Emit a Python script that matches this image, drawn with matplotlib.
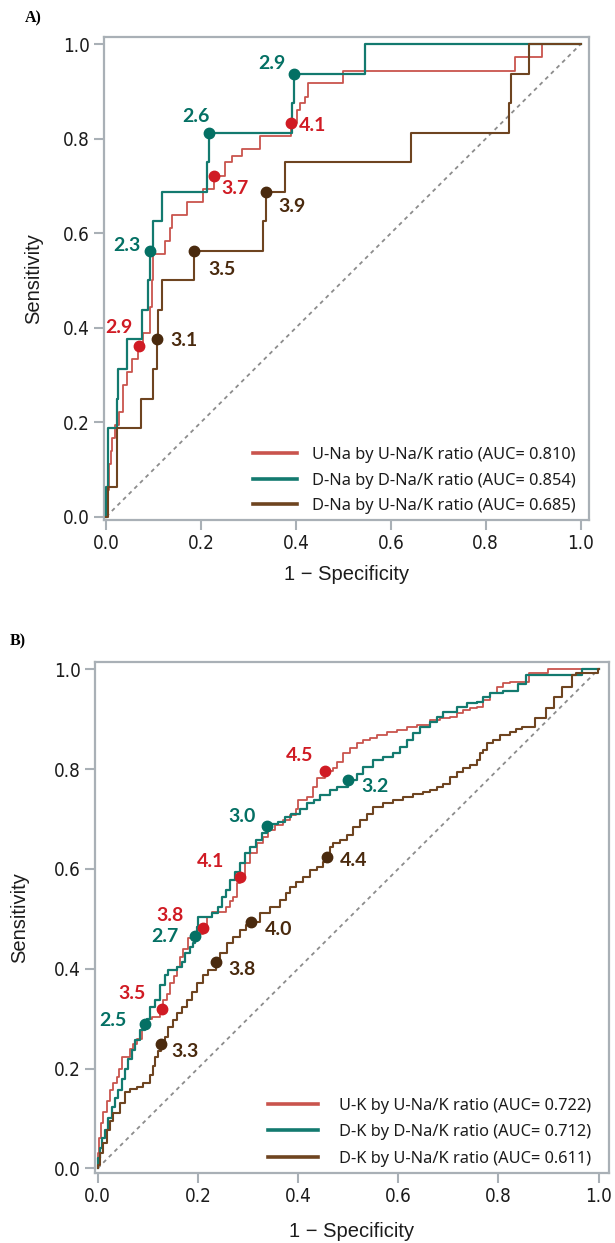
import matplotlib
matplotlib.use('Agg')
from matplotlib import pyplot

# ---------------- panel A data ----------------
a_red_fpr = [0, 0, 0.001, 0.006, 0.010, 0.013, 0.019, 0.026, 0.036, 0.043, 0.054, 0.068, 0.078,
             0.092, 0.096, 0.099, 0.124, 0.135, 0.139, 0.170, 0.203, 0.228, 0.250, 0.265, 0.286,
             0.324, 0.390, 0.402, 0.409, 0.418, 0.426, 0.500, 0.861, 0.918, 1.0]
a_red_tpr = [0, 0.028, 0.056, 0.111, 0.139, 0.167, 0.194, 0.222, 0.278, 0.306, 0.333, 0.361, 0.389,
             0.444, 0.5, 0.556, 0.583, 0.611, 0.639, 0.667, 0.694, 0.722, 0.75, 0.764, 0.778,
             0.806, 0.833, 0.861, 0.875, 0.889, 0.917, 0.944, 0.972, 1.0, 1.0]

a_teal_fpr = [0, 0, 0.003, 0.022, 0.0255, 0.0445, 0.075, 0.089, 0.0915, 0.099, 0.118, 0.212, 0.2165,
              0.392, 0.3965, 0.545, 1.0]
a_teal_tpr = [0, 0.0625, 0.1875, 0.25, 0.3125, 0.375, 0.4375, 0.5, 0.5625, 0.625, 0.6875, 0.75, 0.8125,
              0.875, 0.9375, 1.0, 1.0]

a_brown_fpr = [0, 0.0045, 0.022, 0.073, 0.099, 0.108, 0.110, 0.118, 0.1844, 0.330, 0.3358, 0.377,
               0.642, 0.850, 0.854, 0.891, 1.0]
a_brown_tpr = [0, 0.0625, 0.1875, 0.25, 0.3125, 0.375, 0.4375, 0.5, 0.5625, 0.625, 0.6875, 0.75,
               0.8125, 0.875, 0.9375, 1.0, 1.0]

a_red_cut_x = [0.0683, 0.228, 0.390]
a_red_cut_y = [0.361, 0.722, 0.833]
a_red_cut_lab = ['2.9', '3.7', '4.1']
a_teal_cut_x = [0.0915, 0.2165, 0.3965]
a_teal_cut_y = [0.5625, 0.8125, 0.9375]
a_teal_cut_lab = ['2.3', '2.6', '2.9']
a_brown_cut_x = [0.108, 0.1844, 0.3358]
a_brown_cut_y = [0.375, 0.5625, 0.6875]
a_brown_cut_lab = ['3.1', '3.5', '3.9']

a_legend = ['U-Na by U-Na/K ratio (AUC= 0.810)',
            'D-Na by D-Na/K ratio (AUC= 0.854)',
            'D-Na by U-Na/K ratio (AUC= 0.685)']

# ---------------- panel B data ----------------
b_red_fpr = [0, 0, 0.003, 0.006, 0.011, 0.018, 0.025, 0.031, 0.038, 0.043, 0.048, 0.0647, 0.071,
             0.078, 0.088, 0.098, 0.108, 0.125, 0.129, 0.131, 0.138, 0.1445, 0.152, 0.158, 0.1645,
             0.171, 0.181, 0.190, 0.2097, 0.218, 0.2277, 0.2568, 0.2643, 0.271, 0.279, 0.2842,
             0.294, 0.304, 0.3175, 0.331, 0.3407, 0.354, 0.3707, 0.384, 0.397, 0.4006, 0.417,
             0.4305, 0.437, 0.4539, 0.4705, 0.477, 0.490, 0.5038, 0.517, 0.530, 0.543, 0.557,
             0.577, 0.597, 0.617, 0.637, 0.6635, 0.6834, 0.7034, 0.7167, 0.730, 0.7435, 0.7567,
             0.770, 0.783, 0.7966, 0.810, 0.823, 0.861, 0.900, 1.0]
b_red_tpr = [0, 0.03, 0.06, 0.09, 0.113, 0.135, 0.157, 0.17, 0.184, 0.20, 0.224, 0.24, 0.25,
             0.26, 0.28, 0.30, 0.303, 0.315, 0.319, 0.337, 0.35, 0.371, 0.385, 0.404, 0.424,
             0.44, 0.461, 0.47, 0.482, 0.504, 0.514, 0.524, 0.535, 0.544, 0.571, 0.5844,
             0.611, 0.631, 0.651, 0.664, 0.678, 0.688, 0.698, 0.708, 0.721, 0.738, 0.745,
             0.765, 0.7816, 0.796, 0.8016, 0.815, 0.8317, 0.8417, 0.8517, 0.858, 0.862, 0.868,
             0.875, 0.8785, 0.885, 0.888, 0.898, 0.902, 0.905, 0.912, 0.918, 0.922, 0.925,
             0.9385, 0.952, 0.965, 0.972, 0.974, 0.992, 1.0, 1.0]

b_teal_fpr = [0, 0, 0.004, 0.008, 0.0148, 0.021, 0.028, 0.035, 0.0413, 0.048, 0.0547, 0.061, 0.068,
              0.075, 0.0846, 0.0946, 0.098, 0.1046, 0.114, 0.1245, 0.134, 0.141, 0.158, 0.168,
              0.1745, 0.185, 0.190, 0.1944, 0.198, 0.201, 0.2277, 0.241, 0.2477, 0.257, 0.2643,
              0.274, 0.284, 0.294, 0.304, 0.317, 0.3275, 0.3375, 0.347, 0.3607, 0.374, 0.387,
              0.404, 0.4174, 0.431, 0.444, 0.464, 0.477, 0.5004, 0.517, 0.530, 0.550, 0.570,
              0.590, 0.6036, 0.617, 0.630, 0.643, 0.6635, 0.677, 0.690, 0.717, 0.7367, 0.757,
              0.770, 0.783, 0.810, 0.840, 0.855, 0.966, 1.0]
b_teal_tpr = [0, 0.02, 0.04, 0.06, 0.0768, 0.10, 0.1235, 0.14, 0.157, 0.18, 0.2, 0.22, 0.237,
              0.257, 0.277, 0.2886, 0.30, 0.324, 0.337, 0.367, 0.387, 0.397, 0.404, 0.414,
              0.431, 0.444, 0.451, 0.4655, 0.484, 0.504, 0.511, 0.524, 0.544, 0.558, 0.578,
              0.594, 0.611, 0.631, 0.644, 0.658, 0.671, 0.686, 0.691, 0.6946, 0.704, 0.711,
              0.721, 0.7315, 0.738, 0.748, 0.758, 0.765, 0.778, 0.791, 0.805, 0.818, 0.825,
              0.832, 0.845, 0.858, 0.872, 0.885, 0.895, 0.905, 0.915, 0.925, 0.932, 0.935,
              0.945, 0.952, 0.957, 0.970, 0.988, 1.0, 1.0]

b_brown_fpr = [0, 0, 0.005, 0.0114, 0.018, 0.025, 0.0314, 0.045, 0.0547, 0.065, 0.078, 0.091,
               0.1046, 0.110, 0.1146, 0.121, 0.1265, 0.135, 0.141, 0.151, 0.158, 0.168, 0.178,
               0.188, 0.198, 0.211, 0.221, 0.2357, 0.244, 0.2577, 0.271, 0.284, 0.297, 0.306,
               0.324, 0.344, 0.364, 0.377, 0.384, 0.397, 0.4106, 0.424, 0.437, 0.450, 0.4573,
               0.464, 0.4705, 0.484, 0.497, 0.510, 0.5237, 0.537, 0.5503, 0.570, 0.590, 0.610,
               0.630, 0.650, 0.663, 0.677, 0.690, 0.7034, 0.717, 0.730, 0.743, 0.7567, 0.763,
               0.770, 0.7767, 0.790, 0.803, 0.823, 0.836, 0.8465, 0.873, 0.896, 0.912, 0.9275,
               0.947, 0.955, 0.998, 1.0]
b_brown_tpr = [0, 0.007, 0.03, 0.05, 0.077, 0.095, 0.11, 0.13, 0.1535, 0.158, 0.1635, 0.17,
               0.187, 0.205, 0.2237, 0.235, 0.2485, 0.264, 0.284, 0.297, 0.311, 0.324, 0.337,
               0.354, 0.371, 0.387, 0.397, 0.414, 0.431, 0.451, 0.464, 0.4776, 0.488, 0.493,
               0.511, 0.524, 0.5377, 0.551, 0.564, 0.574, 0.5844, 0.598, 0.6044, 0.614, 0.623,
               0.644, 0.651, 0.658, 0.668, 0.684, 0.698, 0.711, 0.7246, 0.7315, 0.738, 0.7447,
               0.751, 0.7547, 0.758, 0.7647, 0.771, 0.785, 0.795, 0.8016, 0.808, 0.818, 0.8317,
               0.838, 0.8517, 0.858, 0.868, 0.875, 0.88, 0.885, 0.902, 0.922, 0.945, 0.965,
               0.9886, 0.993, 1.0, 1.0]

b_red_cut_x = [0.129, 0.2097, 0.2842, 0.4539]
b_red_cut_y = [0.319, 0.482, 0.5844, 0.796]
b_red_cut_lab = ['3.5', '3.8', '4.1', '4.5']
b_teal_cut_x = [0.0946, 0.1944, 0.3375, 0.5004]
b_teal_cut_y = [0.2886, 0.4655, 0.686, 0.778]
b_teal_cut_lab = ['2.5', '2.7', '3.0', '3.2']
b_brown_cut_x = [0.1265, 0.2357, 0.306, 0.4573]
b_brown_cut_y = [0.2485, 0.414, 0.493, 0.623]
b_brown_cut_lab = ['3.3', '3.8', '4.0', '4.4']

b_legend = ['U-K by U-Na/K ratio (AUC= 0.722)',
            'D-K by D-Na/K ratio (AUC= 0.712)',
            'D-K by U-Na/K ratio (AUC= 0.611)']

ticks = [0.0, 0.2, 0.4, 0.6, 0.8, 1.0]

RED_LINE, RED_DOT = '#c9544d', '#d01b24'
TEAL_LINE, TEAL_DOT = '#137a6f', '#047064'
BROWN_LINE, BROWN_DOT = '#6e4420', '#4a2a0e'
FRAME = '#a9b0b6'


def label_cutoffs(ax, xs, ys, labels, offsets, dot, txt):
    ax.plot(xs, ys, 'o', color=dot, markersize=7.5, zorder=5)
    for x, y, lab, off in zip(xs, ys, labels, offsets):
        ax.annotate(lab, (x, y), xytext=off, textcoords='offset points',
                    ha='center', va='center', color=txt, fontsize=14,
                    fontweight='bold', family=['Lato', 'DejaVu Sans'], zorder=6)


def style_axes(ax, xlim, ylim, xlab_y, ylab_x):
    ax.set_xlim(xlim)
    ax.set_ylim(ylim)
    ax.set_xticks(ticks)
    ax.set_yticks(ticks)
    ax.set_xticklabels(['%.1f' % t for t in ticks])
    ax.set_yticklabels(['%.1f' % t for t in ticks])
    for s in ax.spines.values():
        s.set_color(FRAME)
        s.set_linewidth(1.6)
    ax.tick_params(direction='out', length=7, width=1.5, color=FRAME,
                   labelcolor='#1c1c1c', labelsize=13.5, pad=3)
    for lab in ax.get_xticklabels() + ax.get_yticklabels():
        lab.set_family('DejaVu Sans')
        lab.set_stretch('condensed')
    ax.plot([0, 1], [0, 1], color='#8c8c8c', lw=1.3, linestyle=(0, (2.2, 2.2)), zorder=1)
    ax.set_xlabel('1 \u2212 Specificity', fontsize=14.5, family=['Liberation Sans', 'DejaVu Sans'],
                  color='#1c1c1c')
    ax.set_ylabel('Sensitivity', fontsize=14.5, family=['Liberation Sans', 'DejaVu Sans'],
                  color='#1c1c1c')
    ax.xaxis.set_label_coords(0.5, xlab_y)
    ax.xaxis.label.set_va('center')
    ax.yaxis.set_label_coords(ylab_x, 0.5)
    ax.yaxis.label.set_va('center')


def px(dx, dy):
    # pixel offsets (at 100 dpi) -> points
    return (dx * 0.72, dy * 0.72)


def add_legend(ax, handles, labels, anchor, hlen, tpad, lspace):
    leg = ax.legend(handles, labels, loc='lower left', bbox_to_anchor=anchor,
                    frameon=False, borderpad=0, borderaxespad=0, handlelength=hlen,
                    handletextpad=tpad, labelspacing=lspace,
                    prop={'family': ['Noto Sans', 'DejaVu Sans'], 'size': 11.8})
    for ln in leg.get_lines():
        ln.set_linewidth(2.6)
    for t in leg.get_texts():
        t.set_color('#1c1c1c')
    return leg


fig = pyplot.figure(figsize=(6.15, 12.43), dpi=100)

# ---------------- panel A ----------------
axA = fig.add_axes([0.1683, 0.5817, 0.7891, 0.3886])
lA1, = axA.plot(a_red_fpr, a_red_tpr, drawstyle='steps-post', color=RED_LINE, lw=1.3, zorder=3)
lA2, = axA.plot(a_teal_fpr, a_teal_tpr, drawstyle='steps-post', color=TEAL_LINE, lw=1.6, zorder=3)
lA3, = axA.plot(a_brown_fpr, a_brown_tpr, drawstyle='steps-post', color=BROWN_LINE, lw=1.5, zorder=3)
style_axes(axA, (-0.0057, 1.0173), (-0.007, 1.0155), -0.1139, -0.1432)
label_cutoffs(axA, a_red_cut_x, a_red_cut_y, a_red_cut_lab,
              [px(-19.5, 18.3), px(20.6, -13.3), px(21, -2.7)], RED_DOT, RED_DOT)
label_cutoffs(axA, a_teal_cut_x, a_teal_cut_y, a_teal_cut_lab,
              [px(-22.7, 5), px(-12.8, 16.6), px(-22.9, 10)], TEAL_DOT, TEAL_DOT)
label_cutoffs(axA, a_brown_cut_x, a_brown_cut_y, a_brown_cut_lab,
              [px(26.1, -0.7), px(28.1, -19), px(26.6, -15)], BROWN_DOT, BROWN_DOT)
add_legend(axA, [lA1, lA2, lA3], a_legend, (0.308, 0.0125), 2.7, 0.93, 0.57)
fig.text(33 / 615, 1 - 18 / 1243, 'A)', ha='center', va='center', fontsize=11.5,
         fontweight='bold', family=['Liberation Serif', 'DejaVu Serif'])

# ---------------- panel B ----------------
axB = fig.add_axes([0.1543, 0.0563, 0.8361, 0.4111])
lB1, = axB.plot(b_red_fpr, b_red_tpr, drawstyle='steps-post', color=RED_LINE, lw=1.3, zorder=3)
lB2, = axB.plot(b_teal_fpr, b_teal_tpr, drawstyle='steps-post', color=TEAL_LINE, lw=1.6, zorder=3)
lB3, = axB.plot(b_brown_fpr, b_brown_tpr, drawstyle='steps-post', color=BROWN_LINE, lw=1.5, zorder=3)
style_axes(axB, (-0.0054, 1.021), (-0.0094, 1.0146), -0.1149, -0.1466)
label_cutoffs(axB, b_red_cut_x, b_red_cut_y, b_red_cut_lab,
              [px(-30.6, 15.7), px(-32.7, 12.7), px(-29.3, 15), px(-25.7, 16)], RED_DOT, RED_DOT)
label_cutoffs(axB, b_teal_cut_x, b_teal_cut_y, b_teal_cut_lab,
              [px(-31.7, 3.6), px(-30, -0.7), px(-24.4, 9.3), px(26.5, -6.7)], TEAL_DOT, TEAL_DOT)
label_cutoffs(axB, b_brown_cut_x, b_brown_cut_y, b_brown_cut_lab,
              [px(24, -7.4), px(26, -7.6), px(27.3, -7), px(26.6, -2.7)], BROWN_DOT, BROWN_DOT)
add_legend(axB, [lB1, lB2, lB3], b_legend, (0.3357, 0.0125), 3.1, 1.28, 0.64)
fig.text(17.6 / 615, 1 - 641.7 / 1243, 'B)', ha='center', va='center', fontsize=11.5,
         fontweight='bold', family=['Liberation Serif', 'DejaVu Serif'])

pyplot.savefig('out.png', dpi=100)
